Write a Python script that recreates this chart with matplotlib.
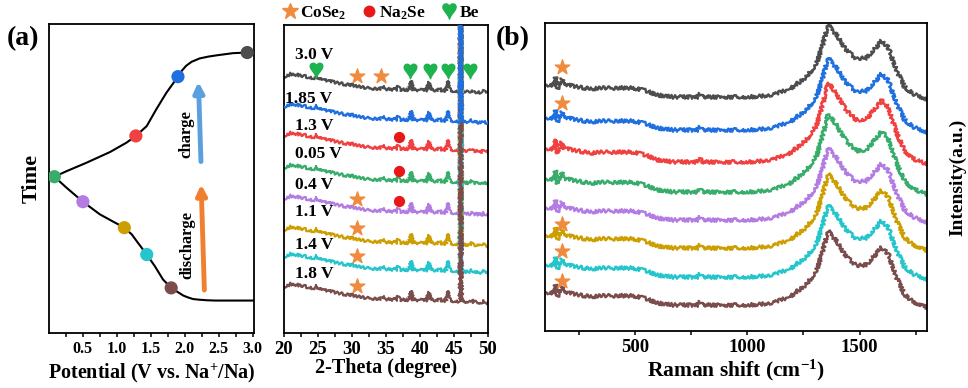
import numpy as np
import matplotlib
matplotlib.use('Agg')
import matplotlib.pyplot as plt
from matplotlib.lines import Line2D

plt.rcParams['font.family'] = ['Liberation Serif', 'DejaVu Sans']
plt.rcParams['font.weight'] = 'bold'
plt.rcParams['axes.labelweight'] = 'bold'
plt.rcParams['mathtext.fontset'] = 'custom'
plt.rcParams['mathtext.rm'] = 'Liberation Serif:bold'
plt.rcParams['mathtext.default'] = 'regular'
plt.rcParams['axes.linewidth'] = 1.3

# states, top trace first
labels = ['3.0 V', '1.85 V', '1.3 V', '0.05 V', '0.4 V', '1.1 V', '1.4 V', '1.8 V']
colors = ['#4d4d4d', '#1f6fe0', '#f04040', '#38ad6b', '#b27ce2', '#cc9e00', '#25c5cc', '#7a4c4c']

# (a) charge/discharge curve: potential (V) vs time (a.u.)
pot_dis = [3.03, 2.71, 2.45, 2.32, 2.20, 2.12, 2.05, 1.98, 1.90, 1.80, 1.68, 1.56, 1.44,
           1.31, 1.22, 1.11, 0.95, 0.75, 0.50, 0.26, 0.08]
t_dis = [10.5, 10.5, 10.5, 10.6, 10.8, 11.0, 11.5, 12.1, 13.2, 14.6, 17.3, 21.6, 25.4,
         29.2, 31.9, 34.1, 36.0, 38.4, 42.5, 47.0, 50.6]
pot_ch = [0.08, 0.26, 0.55, 0.90, 1.14, 1.28, 1.44, 1.58, 1.73, 1.90, 1.96, 2.02, 2.10,
          2.22, 2.35, 2.47, 2.71, 2.92, 3.03]
t_ch = [50.6, 52.4, 55.1, 58.6, 61.6, 63.8, 67.0, 72.4, 77.8, 83.0, 85.0, 86.5, 87.8,
        88.9, 89.5, 89.9, 90.6, 90.8, 91.0]
state_pot = [2.92, 1.90, 1.28, 0.08, 0.50, 1.11, 1.44, 1.80]
state_t = [90.8, 83.0, 63.8, 50.6, 42.5, 34.1, 25.4, 14.6]

# XRD: common profile (height above right-end baseline) and trace baselines
xrd_x = [20, 21, 22, 23.5, 24.5, 24.8, 25.1, 26.5, 28, 29.8, 30.1, 30.4, 32, 34.2, 34.5,
         34.8, 35.9, 36.1, 36.4, 36.6, 36.8, 37.0, 38.4, 38.7, 39.0, 40, 41.0, 41.3, 41.6,
         42.6, 42.9, 43.2, 43.8, 44.1, 44.4, 45.85, 46.0, 46.15, 47.3, 47.6, 47.9, 49.1,
         49.4, 49.7, 50]
xrd_prof = [16, 19, 18, 16, 14.5, 17.5, 14, 12, 10, 7.5, 9.5, 7, 5, 4, 7,
            4, 3.5, 5.5, 3.5, 3.5, 6.5, 3.3, 3, 12, 3, 3, 2.8, 11, 2.8,
            2.5, 4.5, 2.5, 2.2, 12, 2.2, 1.5, 400, 1.5, 1, 3, 1, 0.3,
            2, 0.2, 0]
xrd_base = [240, 210, 181, 149, 118, 87, 60, 30]
xrd_label_y = [278, 234, 207, 179, 148, 121, 88, 59]
xrd_label_x = [21.6, 20.2, 21.6, 21.6, 21.6, 21.6, 21.6, 21.6]
xrd_star_x = [30.7, 34.3, 30.7, 30.7, 30.7, 30.7]
xrd_star_y = [257, 257, 134, 105, 77, 47]
xrd_dot_x = [36.9, 36.9, 36.9]
xrd_dot_y = [196, 162, 132]
xrd_heart_x = [24.7, 38.5, 41.4, 44.1, 47.4]
xrd_heart_y = [263, 262, 262, 262, 262]

# Raman: common profile (height above flat baseline) and trace baselines
ram_x = [107, 137, 148, 155, 165, 175, 185, 196, 250, 300, 360, 419, 493, 552, 596, 670,
         750, 780, 790, 800, 893, 1011, 1115, 1190, 1263, 1308, 1337, 1360, 1397, 1441,
         1486, 1530, 1575, 1597, 1627, 1664, 1701, 1738, 1797]
ram_prof = [12, 12, 20, 8, 12, 18, 12, 12, 10, 8, 9, 9, 9, 6, 2, 0,
            0, 0, 3, 0, 0, 0, 2, 8, 20, 33, 53, 72, 62, 47,
            38, 39, 50, 56, 50, 27, 10, 3, -2]
ram_base = [234, 201, 169, 139, 111, 83, 54, 26]
ram_scale = [1.0, 1.0, 1.1, 1.08, 1.0, 1.03, 1.0, 1.03]
ram_star_x = [174, 174, 174, 174, 174]
ram_star_y = [264, 228, 107, 80, 50]

star_c = '#f08a3c'
heart_c = '#1db34f'

fig = plt.figure(figsize=(9.68, 3.88), dpi=100)
ax1 = fig.add_axes([0.0506, 0.1418, 0.2118, 0.796])
ax2 = fig.add_axes([0.2934, 0.1418, 0.2107, 0.794])
ax3 = fig.add_axes([0.563, 0.1469, 0.3946, 0.794])

for ax, ls in ((ax1, 11.5), (ax2, 13.5), (ax3, 13.5)):
    ax.tick_params(axis='x', direction='out', length=3, width=1.1, labelsize=ls, pad=3)
    ax.tick_params(axis='x', which='minor', direction='out', length=3, width=1.1)
    ax.set_yticks([])

# ---- (a)
ax1.plot(pot_dis, t_dis, color='black', lw=1.5, zorder=2)
ax1.plot(pot_ch, t_ch, color='black', lw=1.5, zorder=2)
ax1.scatter(state_pot, state_t, s=90, c=colors, zorder=3, edgecolors='none')
ax1.annotate('', xy=(2.24, 49), xytext=(2.29, 13),
             arrowprops=dict(arrowstyle='-|>', color='#f08030', lw=3.5, mutation_scale=15))
ax1.annotate('', xy=(2.20, 82.2), xytext=(2.24, 54.6),
             arrowprops=dict(arrowstyle='-|>', color='#5aa0e0', lw=3.5, mutation_scale=15))
ax1.text(2.04, 28.4, 'discharge', rotation=90, ha='center', va='center', fontsize=12)
ax1.text(2.02, 64.3, 'charge', rotation=90, ha='center', va='center', fontsize=12)
ax1.set_xlim(0, 3.02)
ax1.set_ylim(0, 100)
ax1.set_xticks([0.5, 1.0, 1.5, 2.0, 2.5, 3.0])
ax1.set_xticks([0.25, 0.75, 1.25, 1.75, 2.25, 2.75], minor=True)
ax1.set_xlabel('Potential (V vs. Na$^{+}$/Na)', fontsize=14.5, labelpad=3)
ax1.set_ylabel('Time', fontsize=16, labelpad=5)
fig.text(0.024, 0.90, '(a)', fontsize=20, ha='center', va='center', fontweight='bold')

# ---- XRD
xp = np.array(xrd_x)
pp = np.array(xrd_prof)
for i in range(len(labels)):
    ln, = ax2.plot(xp, pp + xrd_base[i], color=colors[i], lw=1.6,
                   zorder=3 if i == 1 else 2)
    ln.set_sketch_params(scale=1.4, length=2.0, randomness=3)
    ax2.text(xrd_label_x[i], xrd_label_y[i], labels[i], fontsize=12.5, ha='left',
             va='center', fontweight='bold')
ax2.scatter(xrd_star_x, xrd_star_y, marker='*', s=120, color=star_c, zorder=4)
ax2.scatter(xrd_dot_x, xrd_dot_y, marker='o', s=50, color='#e81818', zorder=4)
ax2.scatter(xrd_heart_x, xrd_heart_y, marker='$\u2665$', s=110, color=heart_c, zorder=4)
ax2.set_xlim(20, 50)
ax2.set_ylim(0, 308)
ax2.set_xticks([20, 25, 30, 35, 40, 45, 50])
ax2.set_xticks([22.5, 27.5, 32.5, 37.5, 42.5, 47.5], minor=True)
ax2.set_xlabel('2-Theta (degree)', fontsize=14.5, labelpad=0)
handles = [Line2D([], [], marker='*', ls='none', color=star_c, markersize=12),
           Line2D([], [], marker='o', ls='none', color='#e81818', markersize=7.5),
           Line2D([], [], marker='$\u2665$', ls='none', color=heart_c, markersize=11)]
ax2.legend(handles, ['CoSe$_2$', 'Na$_2$Se', 'Be'], loc='lower center',
           bbox_to_anchor=(0.47, 0.985), ncol=3, frameon=False, fontsize=12.5,
           handletextpad=0.1, columnspacing=0.8, handlelength=1.0, borderaxespad=0.05)

# ---- (b) Raman
rx = np.array(ram_x)
rp = np.array(ram_prof)
for i in range(len(labels)):
    ln, = ax3.plot(rx, rp * ram_scale[i] + ram_base[i], color=colors[i], lw=1.7)
    ln.set_sketch_params(scale=1.8, length=2.0, randomness=3)
ax3.scatter(ram_star_x, ram_star_y, marker='*', s=120, color=star_c, zorder=4)
ax3.set_xlim(100, 1800)
ax3.set_ylim(0, 308)
ax3.set_xticks([500, 1000, 1500])
ax3.set_xticks([250, 750, 1250, 1750], minor=True)
ax3.set_xlabel('Raman shift (cm$^{-1}$)', fontsize=15.5, labelpad=1)
ax3.yaxis.set_label_position('right')
ax3.set_ylabel('Intensity(a.u.)', fontsize=14, labelpad=16)
fig.text(0.53, 0.90, '(b)', fontsize=20, ha='center', va='center', fontweight='bold')

for ax in (ax1, ax2, ax3):
    for lbl in ax.get_xticklabels():
        lbl.set_fontweight('bold')

fig.savefig('out.png', dpi=100)
